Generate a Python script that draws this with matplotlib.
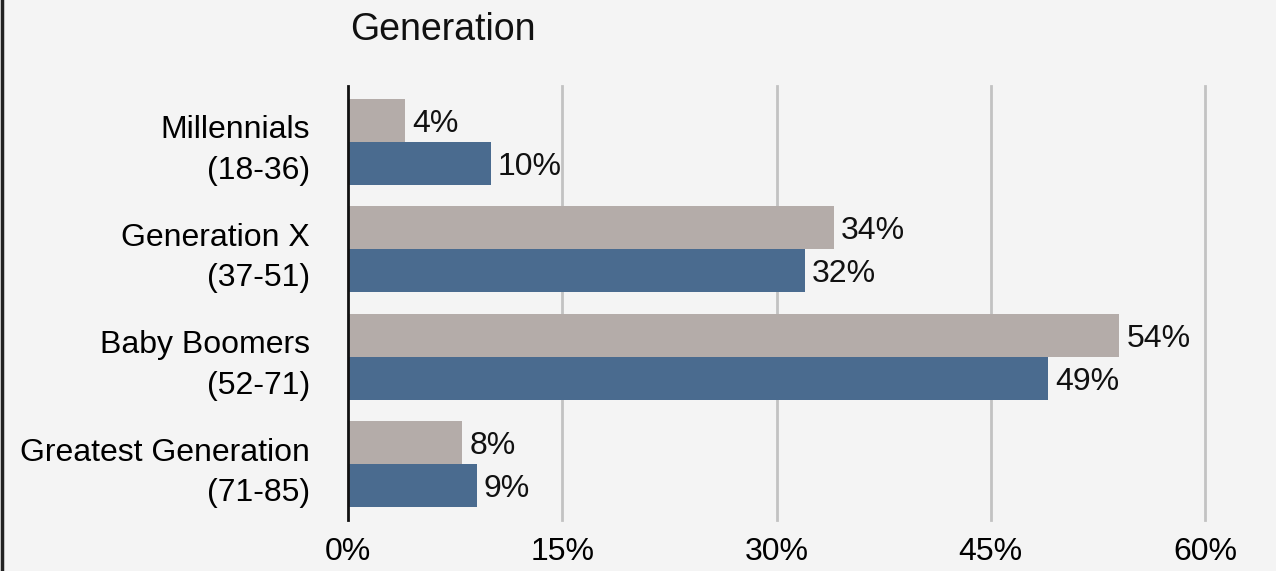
import matplotlib
matplotlib.use("Agg")
import matplotlib.pyplot as plt
from matplotlib.lines import Line2D
import numpy as np

plt.rcParams['font.family'] = ['Liberation Sans', 'DejaVu Sans']

categories = ["Millennials\n(18-36)", "Generation X\n(37-51)", "Baby Boomers\n(52-71)", "Greatest Generation\n(71-85)"]
gray_values = [4, 34, 54, 8]
blue_values = [10, 32, 49, 9]
xticks = [0, 15, 30, 45, 60]
xtick_labels = ["0%", "15%", "30%", "45%", "60%"]

bg = "#f4f4f4"
gray_c = "#b4aca9"
blue_c = "#4a6b8f"
fs = 23

fig = plt.figure(figsize=(12.76, 5.71), dpi=100, facecolor=bg)
ax = fig.add_axes([348/1276, 1-520/571, (1205-348)/1276, (520-86)/571])
ax.set_facecolor(bg)

y = np.arange(len(categories))
h = 0.4
ax.barh(y - h/2, gray_values, height=h, color=gray_c, zorder=3)
ax.barh(y + h/2, blue_values, height=h, color=blue_c, zorder=3)

for yi, v in zip(y, gray_values):
    ax.text(v + 0.5, yi - h/2, f"{v}%", va="center_baseline", ha="left", fontsize=fs, color="#111111", zorder=4)
for yi, v in zip(y, blue_values):
    ax.text(v + 0.5, yi + h/2, f"{v}%", va="center_baseline", ha="left", fontsize=fs, color="#111111", zorder=4)

ax.set_xlim(0, 60)
ax.set_ylim(len(categories) - 0.48, -0.52)
ax.set_yticks(y)
ax.set_yticklabels(categories, fontsize=fs, ha="right", multialignment="right", linespacing=1.45)
ax.set_xticks(xticks)
ax.set_xticklabels(xtick_labels, fontsize=fs)
ax.tick_params(axis="both", length=0)
ax.tick_params(axis="y", pad=27.5)
ax.tick_params(axis="x", pad=12)

for xt in xticks[1:]:
    ax.axvline(xt, color="#c2c2c2", lw=2, zorder=1, clip_on=False)

for s in ["top", "right", "bottom"]:
    ax.spines[s].set_visible(False)
ax.spines["left"].set_color("#111111")
ax.spines["left"].set_linewidth(2)
ax.spines["left"].set_zorder(5)

fig.text(350/1276, 1-30/571, "Generation", fontsize=27, va="center", ha="left", color="#111111")
fig.add_artist(Line2D([1.5/1276, 1.5/1276], [0, 1], color="#222222", lw=2.5, transform=fig.transFigure))

fig.savefig("out.png", dpi=100, facecolor=bg)
